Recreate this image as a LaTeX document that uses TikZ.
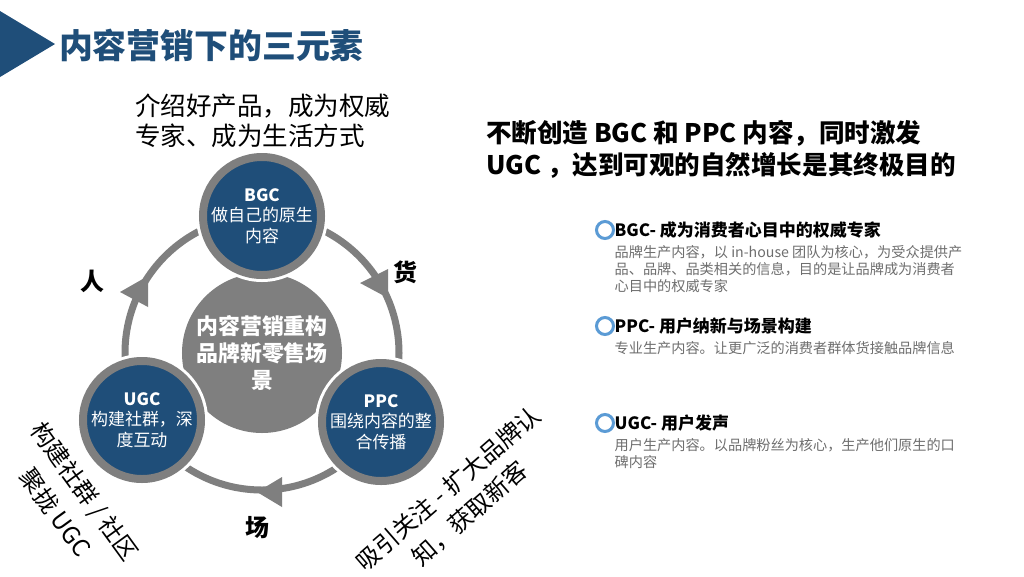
\documentclass[tikz,border=0pt]{standalone}
\usepackage{fontspec}
\setmainfont{Noto Sans CJK SC}
\usetikzlibrary{positioning}
\definecolor{deepblue}{RGB}{31,78,121}
\definecolor{ringgray}{RGB}{127,127,127}
\definecolor{dotblue}{RGB}{91,155,213}
\definecolor{descgray}{RGB}{110,110,110}

\begin{document}
\begin{tikzpicture}[
    x=0.03cm, y=-0.03cm,
    every node/.style={inner sep=0pt, outer sep=0pt},
    ring/.style={draw=ringgray, line width=0.21cm},
    head/.style={fill=ringgray},
    core/.style={circle, fill=ringgray, minimum size=4.8cm, text=white, align=center, font=\fontsize{18.7}{23}\selectfont\bfseries},
    elem/.style={circle, fill=deepblue, draw=ringgray, line width=0.24cm, preaction={draw=white, line width=0.42cm}, minimum size=3.54cm, text=white, align=center, font=\fontsize{14.5}{17.5}\selectfont},
    side/.style={font=\fontsize{20.4}{24}\selectfont\bfseries},
    slant/.style={align=center, font=\fontsize{20.4}{31}\selectfont},
    dot/.style={circle, draw=dotblue, line width=0.09cm, minimum size=0.51cm},
    headline/.style={anchor=west, font=\fontsize{14.5}{17}\selectfont\bfseries},
    desc/.style={align=left, text=descgray, font=\fontsize{12.1}{14.6}\selectfont}
]

\useasboundingbox[fill=white] (0,0) rectangle (1024,576);

% title bar
\fill[deepblue] (0,11) -- (55,44) -- (0,77) -- cycle;
\node[anchor=west, text=deepblue, font=\fontsize{28.9}{30}\selectfont\bfseries] (title) at (59,45) {内容营销下的三元素};

\node[anchor=west, align=left, font=\fontsize{21.8}{25.5}\selectfont] (intro) at (135,121) {介绍好产品，成为权威\\专家、成为生活方式};

% cycle
\coordinate (hub) at (262,353);
\draw[ring] (hub) circle[radius=137];
\fill[head] (120,292) -- ++(28,-16) -- ++(0,31) -- cycle;
\fill[head] (360,283) -- ++(28,-14) -- ++(0,29) -- cycle;
\fill[head] (257,492) -- ++(25,-15) -- ++(0,30) -- cycle;

\node[core] (core) at (hub) {内容营销重构\\品牌新零售场\\景};
\node[elem] (bgc) at (262,216) {\textbf{BGC}\\做自己的原生\\内容};
\node[elem] (ugc) at (142,420) {\textbf{UGC}\\构建社群，深\\度互动};
\node[elem] (ppc) at (381,422) {\textbf{PPC}\\围绕内容的整\\合传播};

\node[side] (ren) at (92,281) {人};
\node[side] (huo) at (405,272) {货};
\node[side] (chang) at (257,528) {场};

\node[slant, rotate=-54] (ugcnote) at (70,502) {构建社群 / 社区\\聚拢 UGC};
\node[slant, rotate=41, font=\fontsize{20.4}{28}\selectfont] (ppcnote) at (459,501) {吸引关注 - 扩大品牌认\\知，获取新客};

% right column
\node[anchor=west, align=left, font=\fontsize{21.8}{27.5}\selectfont\bfseries] (goal) at (486,149) {不断创造 BGC 和 PPC 内容，同时激发\\UGC ，达到可观的自然增长是其终极目的};

\node[dot] (dotb) at (605,230) {};
\node[headline, right=1pt of dotb] (bgchead) {BGC- 成为消费者心目中的权威专家};
\node[desc, below=6pt of bgchead.south west, anchor=north west] (bgcdesc) {品牌生产内容，以 in-house 团队为核心，为受众提供产\\品、品牌、品类相关的信息，目的是让品牌成为消费者\\心目中的权威专家};

\node[dot] (dotp) at (605,326) {};
\node[headline, right=1pt of dotp] (ppchead) {PPC- 用户纳新与场景构建};
\node[desc, below=6pt of ppchead.south west, anchor=north west] (ppcdesc) {专业生产内容。让更广泛的消费者群体货接触品牌信息};

\node[dot] (dotu) at (605,423) {};
\node[headline, right=1pt of dotu] (ugchead) {UGC- 用户发声};
\node[desc, below=6pt of ugchead.south west, anchor=north west] (ugcdesc) {用户生产内容。以品牌粉丝为核心，生产他们原生的口\\碑内容};

\end{tikzpicture}
\end{document}
